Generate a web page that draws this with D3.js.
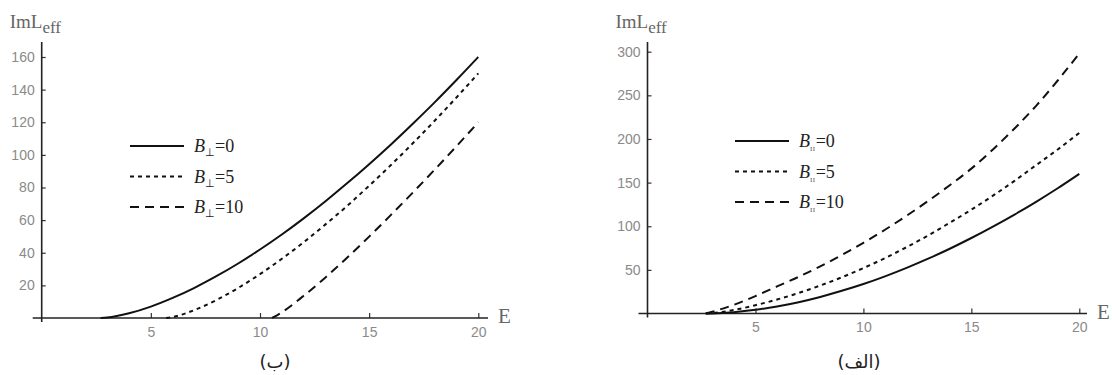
<!DOCTYPE html>
<html>

<head>
    <meta charset="utf-8">
    <title>ImL_eff vs E</title>
    <script src="https://d3js.org/d3.v7.min.js"></script>
</head>
<style>
    body {
        margin: 0;
        background: white;
    }

    .tick text {
        font-family: "Liberation Sans", Arial, sans-serif;
        font-size: 14px;
        fill: #8a8a8a;
    }

    .tick line {
        stroke: #333;
        stroke-width: 1.2px;
    }

    .curve {
        fill: none;
        stroke: #111;
        stroke-width: 2px;
    }

    .axlabel {
        font-family: "Liberation Serif", "Times New Roman", serif;
        fill: #666;
    }

    .leg {
        font-family: "Liberation Serif", "Times New Roman", serif;
        font-size: 18px;
        fill: #222;
    }
</style>

<body>
    <svg id="chart" width="1112" height="375"></svg>
    <script>
        // --- data ---
        // left panel (ب): perpendicular field
        var perpE0 = [2.7, 3, 4, 5, 6, 7, 8, 9, 10, 11, 12, 13, 14, 15, 16, 17, 18, 19, 20];
        var perpV0 = [0, 0.3, 2.9, 7.0, 12.3, 18.5, 25.6, 33.4, 42.0, 51.2, 61.1, 71.6, 82.7, 94.3, 106.4, 119.1, 132.2, 145.9, 160];
        var perpE5 = [5.7, 6, 7, 8, 9, 10, 11, 12, 13, 14, 15, 16, 17, 18, 19, 20];
        var perpV5 = [0, 0.6, 4.9, 11.0, 18.4, 26.9, 36.3, 46.4, 57.4, 68.8, 81.1, 93.8, 107.1, 120.9, 135.2, 150];
        var perpE10 = [10.55, 11, 12, 13, 14, 15, 16, 17, 18, 19, 20];
        var perpV10 = [0, 3.5, 13.6, 24.9, 37.1, 49.9, 63.2, 76.9, 90.9, 105.3, 120];

        // right panel (الف): parallel field
        var parE = [2.7, 3, 4, 5, 6, 7, 8, 9, 10, 11, 12, 13, 14, 15, 16, 17, 18, 19, 20];
        var parV0 = [0, 0.1, 1.5, 4.2, 8.1, 13.0, 19.0, 26.0, 33.8, 42.6, 52.3, 62.8, 74.2, 86.5, 99.6, 113.4, 128.0, 143.5, 160];
        var parV5 = [0, 0.5, 4, 9.5, 16, 23.5, 32, 41.5, 52, 63.5, 76, 89.5, 104, 119, 135, 152, 170, 188, 207];
        var parV10 = [0, 2, 10, 20, 31, 42, 54, 67, 81, 96, 112, 129, 147, 166, 188, 212, 238, 267, 298];

        var xTicks = [5, 10, 15, 20];
        var perpYTicks = [20, 40, 60, 80, 100, 120, 140, 160];
        var parYTicks = [50, 100, 150, 200, 250, 300];
        var legendValues = ["0", "5", "10"];
        var dashStyles = [null, "4,4", "9,6"];

        var svg = d3.select("#chart");

        function toPoints(es, vs) {
            return es.map(function(e, i) {
                return { e: e, v: vs[i] };
            });
        }

        function drawPanel(p) {
            var g = svg.append("g");

            var x = d3.scaleLinear().domain([0, 20]).range([p.x0, p.x20]);
            var y = d3.scaleLinear().domain([0, p.yMax]).range([p.y0, p.yTop]);

            // y axis, ticks pointing inward
            g.append("g")
                .attr("transform", "translate(" + p.x0 + ",0)")
                .call(d3.axisLeft(y).tickValues(p.yTicks).tickSizeInner(-4).tickSizeOuter(0).tickPadding(7))
                .call(function(a) { a.select(".domain").remove(); });

            // x axis, ticks pointing up
            g.append("g")
                .attr("transform", "translate(0," + p.y0 + ")")
                .call(d3.axisBottom(x).tickValues(xTicks).tickSizeInner(-5).tickSizeOuter(0).tickPadding(9))
                .call(function(a) { a.select(".domain").remove(); })
                .selectAll("text").attr("dy", "0.71em");

            // axis lines with small overhang
            g.append("line")
                .attr("x1", p.x0).attr("x2", p.x0)
                .attr("y1", p.y0 + 4).attr("y2", p.axisTop)
                .attr("stroke", "#222").attr("stroke-width", 1.6);
            g.append("line")
                .attr("x1", p.x0 - 9).attr("x2", p.axisRight)
                .attr("y1", p.y0).attr("y2", p.y0)
                .attr("stroke", "#222").attr("stroke-width", 1.6);

            // curves
            var line = d3.line()
                .x(function(d) { return x(d.e); })
                .y(function(d) { return y(d.v); })
                .curve(d3.curveMonotoneX);

            p.series.forEach(function(s, i) {
                g.append("path")
                    .datum(s)
                    .attr("class", "curve")
                    .attr("d", line)
                    .attr("stroke-dasharray", dashStyles[i]);
            });

            // axis labels
            var yl = g.append("text").attr("class", "axlabel")
                .attr("x", p.x0 - 32).attr("y", 28).style("font-size", "19px");
            yl.append("tspan").text("ImL");
            yl.append("tspan").attr("dy", 5).style("font-size", "17px").text("eff");

            g.append("text").attr("class", "axlabel")
                .attr("x", p.axisRight + 10).attr("y", p.y0 + 5)
                .style("font-size", "21px")
                .text("E");

            // legend
            legendValues.forEach(function(v, i) {
                var ly = p.legY + i * p.legStep;
                g.append("line")
                    .attr("x1", p.legX).attr("x2", p.legX + 54)
                    .attr("y1", ly).attr("y2", ly)
                    .attr("stroke", "#111").attr("stroke-width", 2)
                    .attr("stroke-dasharray", dashStyles[i]);
                var t = g.append("text").attr("class", "leg")
                    .attr("x", p.legX + 64).attr("y", ly + 6);
                t.append("tspan").style("font-style", "italic").text("B");
                t.append("tspan").attr("dy", 4).style("font-size", p.subSize)
                    .attr("fill", p.subColor).style("letter-spacing", p.subSpacing).text(p.sub);
                t.append("tspan").attr("dy", -4).text("=" + v);
            });

            // caption
            g.append("text")
                .attr("x", p.capX).attr("y", 368)
                .attr("text-anchor", "middle")
                .style("font-family", "'DejaVu Sans', sans-serif")
                .style("font-size", "18px")
                .attr("fill", "#222")
                .text(p.caption);
        }

        drawPanel({
            x0: 41.7, x20: 478.3, y0: 318, yTop: 57, yMax: 160, axisTop: 42, axisRight: 488,
            yTicks: perpYTicks,
            series: [toPoints(perpE0, perpV0), toPoints(perpE5, perpV5), toPoints(perpE10, perpV10)],
            legX: 130, legY: 146, legStep: 30.5, sub: "⊥", subSize: "11px", subColor: "#222", subSpacing: "0px",
            caption: "(ب)", capX: 275
        });

        drawPanel({
            x0: 647.5, x20: 1079.3, y0: 313.5, yTop: 51.7, yMax: 300, axisTop: 42, axisRight: 1087,
            yTicks: parYTicks,
            series: [toPoints(parE, parV0), toPoints(parE, parV5), toPoints(parE, parV10)],
            legX: 735, legY: 141, legStep: 30.5, sub: "II", subSize: "7px", subColor: "#555", subSpacing: "0.5px",
            caption: "(الف)", capX: 859
        });
    </script>
</body>

</html>
